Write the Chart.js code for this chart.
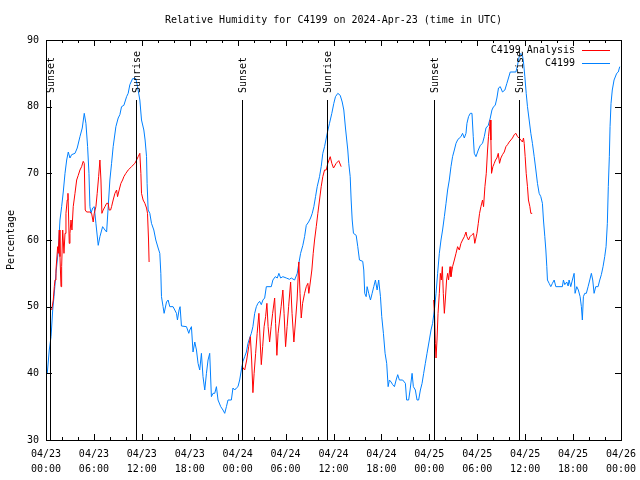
<!DOCTYPE html>
<html>
<head>
<meta charset="utf-8">
<script src="https://cdn.jsdelivr.net/npm/chart.js@4/dist/chart.umd.min.js"></script>
<style>
html,body{margin:0;padding:0;background:#fff;}
canvas{display:block;}
</style>
</head>
<body>
<canvas id="c" width="640" height="480"></canvas>
<script>
// ---- DATA (hours since 2024-04-23 00:00 UTC, relative humidity %) ----
const titleText = 'Relative Humidity for C4199 on 2024-Apr-23 (time in UTC)';
const yTitle = 'Percentage';
const seriesNames = ['C4199 Analysis', 'C4199'];

const tickDates = ['04/23','04/23','04/23','04/23','04/24','04/24','04/24','04/24','04/25','04/25','04/25','04/25','04/26'];
const tickTimes = ['00:00','06:00','12:00','18:00','00:00','06:00','12:00','18:00','00:00','06:00','12:00','18:00','00:00'];

const sunHours  = [0.5, 11.27, 24.54, 35.17, 48.54, 59.17];
const sunLabels = ['Sunset','Sunrise','Sunset','Sunrise','Sunset','Sunrise'];
const sunLineTop = 81;

const stationHours = [0.16,0.41,0.63,0.84,1.0,1.25,1.54,1.75,1.96,2.16,2.38,2.59,2.79,3.0,3.21,3.63,3.91,4.25,4.54,4.79,5.0,5.21,5.38,5.5,5.63,5.84,6.04,6.25,6.54,6.75,7.09,7.38,7.59,7.79,8.0,8.21,8.41,8.75,9.04,9.25,9.46,9.75,10.09,10.29,10.5,10.84,11.25,11.46,11.75,11.96,12.25,12.41,12.59,12.66,12.79,13.0,13.21,13.5,13.75,14.04,14.25,14.38,14.46,14.66,14.79,15.09,15.29,15.5,15.91,16.34,16.46,16.66,16.79,16.96,17.59,17.88,18.0,18.21,18.41,18.63,18.84,19.04,19.25,19.46,19.66,19.88,20.09,20.29,20.5,20.71,20.91,21.13,21.34,21.54,21.88,22.16,22.38,22.59,22.79,23.21,23.41,23.63,23.84,24.04,24.25,24.46,24.66,24.88,25.09,25.29,25.5,25.71,25.91,26.13,26.34,26.54,26.75,26.96,27.16,27.38,27.59,28.21,28.41,28.71,28.96,29.16,29.38,29.66,30.09,30.5,30.71,31.13,31.46,31.66,31.88,32.16,32.38,32.59,32.88,33.13,33.34,33.54,33.75,33.96,34.25,34.46,34.66,34.88,35.21,35.5,35.79,36.04,36.25,36.54,36.84,37.09,37.29,37.5,37.79,37.91,38.09,38.21,38.34,38.5,38.84,39.04,39.25,39.66,39.79,39.91,40.09,40.21,40.41,40.63,40.84,41.04,41.25,41.46,41.66,41.88,42.04,42.25,42.46,42.66,42.84,43.0,43.21,43.41,43.63,43.84,44.04,44.25,44.66,45.0,45.16,45.41,45.59,45.84,46.0,46.25,46.46,46.66,46.88,47.09,47.29,47.5,47.71,48.0,48.21,48.41,48.63,48.84,49.04,49.25,49.46,49.66,49.88,50.09,50.29,50.5,50.71,50.91,51.13,51.34,51.54,51.75,51.96,52.16,52.38,52.59,52.71,52.91,53.13,53.34,53.5,53.63,53.84,54.13,54.38,54.66,54.88,55.09,55.38,55.63,55.84,56.04,56.25,56.46,56.66,56.88,57.16,57.46,57.71,57.91,58.13,58.84,59.04,59.25,59.46,59.66,59.79,59.96,60.13,60.29,60.5,60.71,60.91,61.13,61.34,61.54,61.75,61.96,62.16,62.29,62.46,62.59,62.71,62.79,63.0,63.21,63.41,63.63,63.84,64.66,64.79,64.96,65.21,65.38,65.5,65.71,65.91,66.13,66.25,66.46,66.66,66.88,67.04,67.16,67.29,67.46,67.66,67.88,68.09,68.29,68.46,68.63,68.84,69.13,69.34,69.54,69.75,69.96,70.13,70.29,70.41,70.54,70.63,70.75,70.91,71.13,71.46,71.66,71.84];
const stationRH = [40.0,43.5,45.5,49.5,51.5,55,58.5,63,65,67.2,70,72,73.2,72.3,72.8,73,73.8,75.5,76.8,79,77.5,74,70,65,64,64.8,65,62.5,59.2,60.5,62,61.5,61.2,65,69,71.5,74,77,78.3,78.8,80,80.2,81.5,82,83.3,84.2,84.2,83,81,78,76.5,75,72.5,68.5,64.5,64,62.5,61.5,60,58.8,58,55,51.5,50,49,50.7,51,50,50,49,48,49.5,50,47.1,47,46,46.5,47,43.2,44.7,43.5,41.5,40.5,43,39.5,37.5,40,42,43,36.5,37,37,38,36,35,34.5,34,35,36,36,37.8,37.5,37.8,38,39,40.5,41.8,42.5,43.2,44.5,45.3,46,47,49,50,50.5,50.8,50.3,51,51.3,53,53,54,54.5,54.3,55,54.3,54.5,54.3,54.1,54.3,54,55,56.5,58,59.2,60.5,62.2,62.7,63.3,64,65,66.5,68,69.5,71,73,74,76,77.5,79,80.5,81.5,82,81.7,80.7,79.5,76.8,73.5,71.5,69.5,66,63,61,60.7,59,57,56.8,55.5,52,51.5,53,52,51,52,53,54,52.5,54,51.5,48.5,46,43,41.5,38,39,38.7,38.3,38,39,39.8,39,39,38.5,36,36,37.5,40,38,37.5,36,36,37.5,38.5,40,41.5,43,45,46.5,47.5,49.5,52,55,58,60,61.5,63.5,65.5,67.5,69,71,72.5,73.5,74.5,75,75.3,75.5,76,75.3,76,77.5,78.5,79,79,75.5,73,72.5,73.5,74.2,74.5,75.5,76.8,77.2,78.3,79.5,80,80.2,81.3,82.8,83,82.2,82.5,83.5,84.3,85.2,85.2,86.2,87.5,88,87.7,86.7,84.5,82,80,78,76,74.5,72.5,70.5,68.5,67,66.5,65.5,63,60.5,58.5,56,54,53.5,53,53.5,54,53,53,54,53.3,53.7,53.1,54,53,54,55,52,53,52.5,51.5,50,48,51.5,52,52,53,54,55,54,52,53,53,54,54.8,56,57.5,59,62.5,68,72.5,77,80.5,82.5,84,85,85.2,86];

// analysis series: null marks a break between runs
const analysisHours = [0.71,0.91,1.04,1.13,1.25,1.34,1.46,1.54,1.66,1.75,1.88,1.96,2.09,2.25,2.38,2.5,2.66,2.75,2.84,2.91,3.0,3.13,3.25,3.41,3.63,3.84,4.04,4.25,4.46,4.66,4.79,4.91,5.09,5.5,5.71,5.91,6.04,6.25,6.41,6.59,6.75,6.88,7.0,7.16,7.38,7.59,7.79,7.91,8.09,8.21,8.41,8.63,8.84,8.96,9.16,9.38,9.59,9.75,10.0,10.29,10.71,11.13,11.34,11.54,11.75,11.88,11.96,12.16,12.38,12.59,12.71,12.84,12.91,
  18.0,
  24.56,24.88,25.13,25.38,25.59,25.75,25.91,26.06,26.25,26.44,26.66,26.81,26.96,27.13,27.31,27.5,27.66,27.81,28.0,28.19,28.38,28.63,28.75,28.91,29.06,29.25,29.44,29.66,29.81,30.0,30.19,30.38,30.63,30.81,31.04,31.25,31.44,31.66,31.81,31.96,32.13,32.38,32.59,32.79,32.91,33.13,33.29,33.46,33.63,33.84,34.04,34.25,34.46,34.66,34.88,35.09,35.29,35.59,35.79,36.0,36.34,36.66,36.96,
  42.0,
  48.54,48.66,48.75,48.84,48.96,49.09,49.25,49.38,49.5,49.63,49.75,49.88,50.0,50.16,50.29,50.41,50.59,50.71,50.91,51.13,51.34,51.54,51.75,51.96,52.16,52.38,52.59,52.71,52.91,53.09,53.34,53.54,53.69,53.96,54.13,54.29,54.46,54.66,54.79,54.96,55.13,55.29,55.41,55.54,55.63,55.71,55.79,55.96,56.13,56.29,56.46,56.63,56.79,56.96,57.16,57.38,57.59,57.79,58.0,58.21,58.41,58.63,58.84,59.04,59.25,59.46,59.66,59.79,59.88,60.0,60.13,60.29,60.41,60.59,60.71,60.88];
const analysisRH = [49.5,51,53,54,55.5,57,59,58,61.5,57.5,53,56,61.5,58,61,64,66,67,63,59.5,61,63,61.5,65,67,69,69.7,70.5,71,71.8,71.5,64.5,64.2,64.2,64,62.7,64,65,67,69.5,72,69,64,64.5,65,65.5,65.5,64.5,64.5,65,66,67,67.5,66.5,67.5,68.5,69,69.5,70,70.5,71,71.5,72,72.5,73,70,67,66,65.5,64.8,64,60,56.7,
  null,
  41,40.5,42,44,45.5,42,37.1,40,43,46,49,45,41.3,44,47,48.5,50.5,47,44.7,47,49,51.3,47.5,42.7,46,48,50,52.5,49,44,47,50,53.7,49,44.7,48,51,56.7,52,48.3,50.5,52,53,53.5,52,54,55.5,58,60,62,64,66,68,69.5,70.5,70.5,71.5,72.5,71.5,70.8,71.5,71.9,71,
  null,
  51,48.5,44.5,42.3,45,49,52,55,54,56,52,49,51,54,55,54,56,54.5,56,57,58,59,58.5,59.5,60,60.5,61.2,60.5,60,60.5,60.8,61,59.5,61,62.5,64,65,66,65,68,70,73.5,75.5,77,78,75,70,71,71.5,72,72.3,73,71.5,72.3,72.8,73.2,74,74.3,74.7,75,75.3,75.8,76,75.5,75.3,75,74.7,75.3,74.5,72.5,70,68,66,65,64,64];

// ---- build ----
const toXY = (hs, vs) => hs.map((h, i) => ({x: h, y: vs[i]}));
const FONT = '"DejaVu Sans Mono", "Liberation Mono", monospace';
const RED = '#ff0000', BLUE = '#0080ff';

const decor = {
  id: 'decor',
  afterDatasetsDraw(chart) {
    const {ctx, chartArea: a, scales: {x, y}} = chart;
    ctx.save();
    ctx.strokeStyle = '#000'; ctx.lineWidth = 1;
    ctx.fillStyle = '#000';
    ctx.font = '10px ' + FONT;
    sunHours.forEach((h, i) => {
      const px = Math.round(x.getPixelForValue(h)) + 0.5;
      const top = Math.round(y.getPixelForValue(sunLineTop));
      ctx.beginPath(); ctx.moveTo(px, top); ctx.lineTo(px, a.bottom); ctx.stroke();
      ctx.save();
      ctx.translate(px + 1, top - 7);
      ctx.rotate(-Math.PI / 2);
      ctx.textAlign = 'left'; ctx.textBaseline = 'middle';
      ctx.fillText(sunLabels[i], 0, 0);
      ctx.restore();
    });
    ctx.strokeRect(a.left + 0.5, a.top + 0.5, a.right - a.left, a.bottom - a.top);
    for (let h = 0; h <= 72; h += 2) {
      const px = Math.round(x.getPixelForValue(h)) + 0.5;
      const len = (h % 6 === 0) ? 6 : 3;
      ctx.beginPath();
      ctx.moveTo(px, a.bottom); ctx.lineTo(px, a.bottom - len);
      ctx.moveTo(px, a.top); ctx.lineTo(px, a.top + len);
      ctx.stroke();
    }
    for (let v = 30; v <= 90; v += 10) {
      const py = Math.round(y.getPixelForValue(v)) + 0.5;
      ctx.beginPath();
      ctx.moveTo(a.left, py); ctx.lineTo(a.left + 6, py);
      ctx.moveTo(a.right, py); ctx.lineTo(a.right - 6, py);
      ctx.stroke();
    }
    ctx.textAlign = 'center'; ctx.textBaseline = 'middle';
    ctx.fillText(titleText, (a.left + a.right) / 2, 20);
    ctx.save();
    ctx.translate(11, (a.top + a.bottom) / 2);
    ctx.rotate(-Math.PI / 2);
    ctx.fillText(yTitle, 0, 0);
    ctx.restore();
    const colors = [RED, BLUE];
    seriesNames.forEach((n, i) => {
      const ly = 50 + i * 13;
      ctx.textAlign = 'right';
      ctx.fillStyle = '#000';
      ctx.fillText(n, 575, ly);
      ctx.strokeStyle = colors[i];
      ctx.beginPath(); ctx.moveTo(582, ly + 0.5); ctx.lineTo(610, ly + 0.5); ctx.stroke();
    });
    ctx.restore();
  }
};

new Chart(document.getElementById('c'), {
  type: 'line',
  data: {
    datasets: [
      { label: seriesNames[0], data: toXY(analysisHours, analysisRH), borderColor: RED, borderWidth: 1, pointRadius: 0, tension: 0, spanGaps: false, order: 1 },
      { label: seriesNames[1], data: toXY(stationHours, stationRH), borderColor: BLUE, borderWidth: 1, pointRadius: 0, tension: 0, order: 2 }
    ]
  },
  options: {
    responsive: false, animation: false, devicePixelRatio: 1,
    layout: { padding: { top: 40, right: 19, left: 0, bottom: 0 } },
    plugins: { legend: { display: false }, title: { display: false }, tooltip: { enabled: false } },
    scales: {
      x: {
        type: 'linear', min: 0, max: 72,
        afterFit: s => { s.height = 40; s.paddingLeft = 0; s.paddingRight = 0; },
        grid: { display: false, drawTicks: false }, border: { display: false },
        ticks: {
          stepSize: 6, autoSkip: false, maxRotation: 0, padding: 7, color: '#000',
          font: { family: FONT, size: 10, lineHeight: 1.5 },
          callback: (v) => { const i = Math.round(v / 6); return [tickDates[i], tickTimes[i]]; }
        }
      },
      y: {
        min: 30, max: 90,
        afterFit: s => { s.width = 46; s.paddingTop = 0; s.paddingBottom = 0; },
        grid: { display: false, drawTicks: false }, border: { display: false },
        ticks: { stepSize: 10, padding: 7, color: '#000', font: { family: FONT, size: 10 } }
      }
    }
  },
  plugins: [decor]
});
</script>
</body>
</html>
